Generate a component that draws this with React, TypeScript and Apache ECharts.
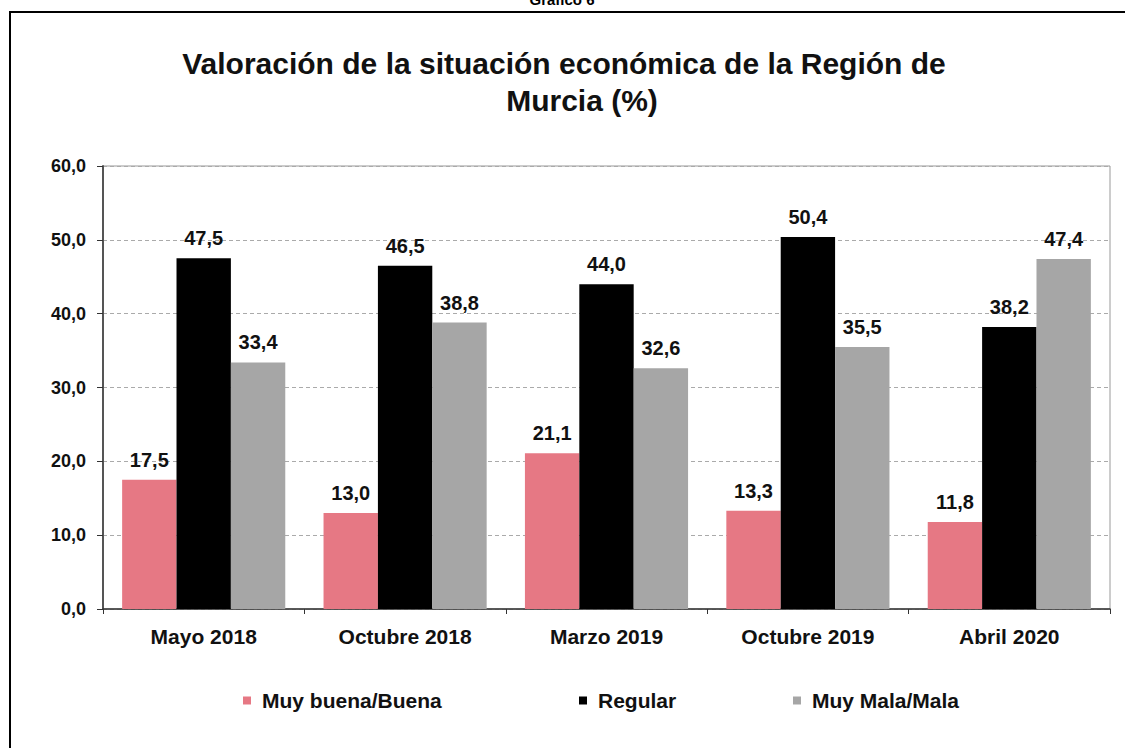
import React, { useEffect, useRef } from "react";
import * as echarts from "echarts";

const categories = ["Mayo 2018", "Octubre 2018", "Marzo 2019", "Octubre 2019", "Abril 2020"];
const seriesNames = ["Muy buena/Buena", "Regular", "Muy Mala/Mala"];
const buena = [17.5, 13.0, 21.1, 13.3, 11.8];
const regular = [47.5, 46.5, 44.0, 50.4, 38.2];
const mala = [33.4, 38.8, 32.6, 35.5, 47.4];
const colors = ["#E67884", "#000000", "#A6A6A6"];
const legendLefts = [238, 574, 788];
const titleLines = ["Valoración de la situación económica de la Región de", "Murcia (%)"];

const fmt = (v: number) => v.toFixed(1).replace(".", ",");

export default function App() {
  const ref = useRef<HTMLDivElement>(null);
  useEffect(() => {
    const chart = echarts.init(ref.current!, null, { renderer: "svg" });
    const font = "Arial, 'Liberation Sans', sans-serif";
    const dataSets = [buena, regular, mala];
    chart.setOption({
      animation: false,
      backgroundColor: "#ffffff",
      textStyle: { fontFamily: font },
      graphic: [
        { type: "rect", shape: { x: 10, y: 12, width: 1130, height: 760 }, style: { fill: "none", stroke: "#000", lineWidth: 2 } },
        { type: "text", x: 562, y: -8, style: { text: "Gráfico 6", font: "bold 15px Arial, 'Liberation Sans', sans-serif", fill: "#000", textAlign: "center" } },
        { type: "text", x: 564, y: 63, style: { text: titleLines[0], font: "bold 30px Arial, 'Liberation Sans', sans-serif", fill: "#111", textAlign: "center", textVerticalAlign: "middle" } },
        { type: "text", x: 582, y: 100, style: { text: titleLines[1], font: "bold 30px Arial, 'Liberation Sans', sans-serif", fill: "#111", textAlign: "center", textVerticalAlign: "middle" } },
      ],
      legend: seriesNames.map((n, i) => ({
        data: [n],
        left: legendLefts[i],
        top: 685,
        itemWidth: 8,
        itemHeight: 8,
        icon: "rect",
        textStyle: { fontSize: 21, fontWeight: "bold", color: "#111", padding: [0, 0, 0, 6], fontFamily: font },
      })),
      grid: { left: 103, top: 166, right: 15, bottom: 139, show: true, borderColor: "#999", borderWidth: 1 },
      xAxis: {
        type: "category",
        data: categories,
        axisLine: { lineStyle: { color: "#333", width: 1.5 } },
        axisTick: { show: true, alignWithLabel: false, length: 5, lineStyle: { color: "#333" } },
        axisLabel: { fontSize: 21, fontWeight: "bold", color: "#111", margin: 17, fontFamily: font },
      },
      yAxis: {
        type: "value",
        min: 0,
        max: 60,
        interval: 10,
        axisLine: { show: true, lineStyle: { color: "#555", width: 2 } },
        axisTick: { show: true, length: 6, lineStyle: { color: "#333" } },
        axisLabel: { fontSize: 18, fontWeight: "bold", color: "#111", margin: 17, formatter: (v: number) => fmt(v), fontFamily: font },
        splitLine: { lineStyle: { type: [4, 3], color: "#aaa", width: 1 } },
      },
      series: seriesNames.map((n, i) => ({
        name: n,
        type: "bar",
        data: dataSets[i],
        barGap: "0%",
        barCategoryGap: "19%",
        itemStyle: { color: colors[i] },
        label: {
          show: true,
          position: "top",
          distance: 10,
          formatter: (p: any) => fmt(p.value),
          fontSize: 20,
          fontWeight: "bold",
          color: "#111",
          fontFamily: font,
        },
      })),
    });
    return () => chart.dispose();
  }, []);
  return <div ref={ref} style={{ position: "fixed", left: 0, top: 0, width: 1125, height: 748 }} />;
}
